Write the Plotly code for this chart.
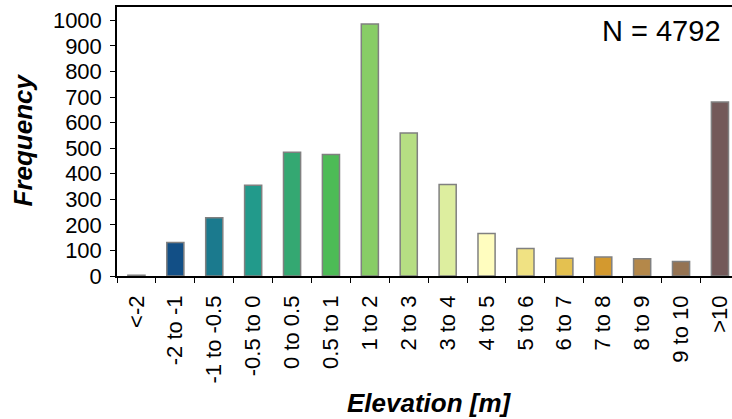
import plotly.graph_objects as go

categories = ["<-2", "-2 to -1", "-1 to -0.5", "-0.5 to 0", "0 to 0.5", "0.5 to 1",
              "1 to 2", "2 to 3", "3 to 4", "4 to 5", "5 to 6", "6 to 7",
              "7 to 8", "8 to 9", "9 to 10", ">10"]
frequency = [3, 131, 228, 355, 484, 475, 986, 559, 358, 166, 108, 69, 74, 67, 57, 680]
bar_colors = ["#8a8fa0", "#124f86", "#1b7a8e", "#229a8b", "#34a872", "#4dbb56",
              "#88cd66", "#b6de83", "#ddee9f", "#fffdbf", "#f0e283", "#e4c150",
              "#d3992f", "#b4884a", "#957352", "#735959"]
n_total = 4792

FONT = "Liberation Sans, Arial, sans-serif"
XRANGE = [-0.5, 15.31]

positions = list(range(len(categories)))
boundaries = [p - 0.5 for p in positions]

fig = go.Figure()
fig.add_trace(go.Bar(
    x=positions,
    y=frequency,
    width=0.44,
    marker=dict(color=bar_colors, line=dict(color="#808080", width=1.5)),
    hoverinfo="x+y",
))
# invisible companion trace so the boundary-tick axis is drawn
fig.add_trace(go.Scatter(
    x=positions, y=frequency, xaxis="x2", mode="markers",
    marker=dict(opacity=0), hoverinfo="skip", showlegend=False,
))

fig.update_layout(
    width=732, height=419,
    margin=dict(l=117, r=0, t=7, b=143),
    paper_bgcolor="white", plot_bgcolor="white",
    showlegend=False,
    font=dict(family=FONT, color="black"),
    xaxis=dict(
        range=XRANGE,
        tickmode="array",
        tickvals=positions,
        ticktext=categories,
        tickangle=-90,
        tickfont=dict(size=22, family=FONT, color="black"),
        ticklabeloverflow="allow",
        showline=True, linecolor="black", linewidth=1.5, mirror=True,
        ticks="", ticklabelstandoff=9,
        showgrid=False, zeroline=False,
    ),
    xaxis2=dict(
        range=XRANGE, overlaying="x", side="bottom",
        tickmode="array", tickvals=boundaries,
        showticklabels=False,
        ticks="outside", ticklen=6, tickwidth=1, tickcolor="black",
        showline=False, showgrid=False, zeroline=False,
    ),
    yaxis=dict(
        range=[0, 1052],
        tickmode="array",
        tickvals=list(range(0, 1001, 100)),
        tickfont=dict(size=22, family=FONT, color="black"),
        showline=True, linecolor="black", linewidth=1.5,
        ticks="outside", ticklen=5, tickwidth=1, tickcolor="black",
        ticklabelstandoff=4,
        showgrid=False, zeroline=False,
    ),
)

# axis titles
fig.add_annotation(
    text="<b><i>Frequency</i></b>", xref="paper", yref="paper",
    x=(22.5 - 117) / 615, y=(276 - 140) / 269, xanchor="center", yanchor="middle",
    textangle=-90, showarrow=False, font=dict(size=26, family=FONT, color="black"),
)
fig.add_annotation(
    text="<b><i>Elevation [m]</i></b>", xref="paper", yref="paper",
    x=(429 - 117) / 615, y=(276 - 403) / 269, xanchor="center", yanchor="middle",
    showarrow=False, font=dict(size=26, family=FONT, color="black"),
)
fig.add_annotation(
    text=f"N = {n_total}", xref="paper", yref="paper",
    x=(723 - 117) / 615, y=(276 - 30.5) / 269, xanchor="right", yanchor="middle",
    showarrow=False, font=dict(size=29, family=FONT, color="black"),
)

fig.write_html("out.html")
